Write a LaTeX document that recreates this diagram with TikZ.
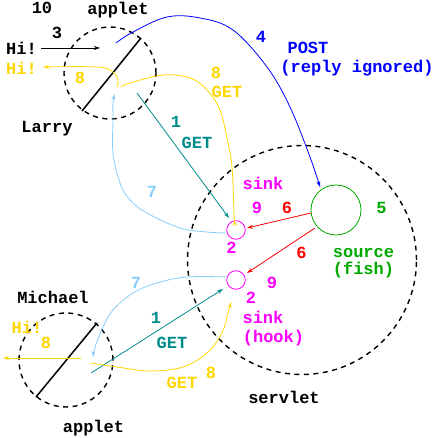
\documentclass[tikz,border=0pt]{standalone}
\usepackage{fontspec}
\setmainfont{Liberation Mono}
\usetikzlibrary{arrows.meta}
\definecolor{cgold}{HTML}{FFD700}
\definecolor{cteal}{HTML}{008B8B}
\definecolor{csky}{HTML}{87CEFA}
\definecolor{cmag}{HTML}{FF00FF}
\definecolor{cgreen}{HTML}{00A800}
\definecolor{cred}{HTML}{FF0000}
\definecolor{cblue}{HTML}{0000FF}
\begin{document}
\begin{tikzpicture}[x=1pt,y=-1pt,
  lbl/.style={inner sep=0pt,font=\fontsize{17}{17}\selectfont\bfseries},
  conn/.style={line width=0.8pt,-{Stealth[length=6pt,width=4pt]}},
  dcirc/.style={circle,draw=black,line width=1.4pt,dash pattern=on 5pt off 4.5pt,inner sep=0pt},
  sinkc/.style={circle,draw=cmag,line width=0.8pt,minimum size=18.6pt,inner sep=0pt},
  bar/.style={line width=1.5pt,black}]
\useasboundingbox (0,0) rectangle (445,438);
% containers
\node[dcirc,minimum size=92pt] (larry) at (110,73) {};
\node[dcirc,minimum size=94pt] (michael) at (66,360) {};
\node[dcirc,minimum size=229pt] (servlet) at (302,260) {};
\node[sinkc] (sinkA) at (236,230) {};
\node[sinkc] (sinkB) at (236,280) {};
\node[circle,draw=cgreen,line width=0.8pt,minimum size=50pt,inner sep=0pt] (source) at (336,210) {};
% bars inside applets
\coordinate (lbA) at (82,111); \coordinate (lbB) at (141,38);
\coordinate (mbA) at (36,397); \coordinate (mbB) at (97,323);
\draw[bar] (lbA) -- (lbB);
\draw[bar] (mbA) -- (mbB);
% labels
\node[lbl] (t10) at (42,8) {10};
\node[lbl] (tapp1) at (118,10) {applet};
\node[lbl] (t3) at (57,33) {3};
\node[lbl] (hi1) at (21.5,48) {Hi!};
\node[lbl,text=cgold] (hi2) at (21.5,68) {Hi!};
\node[lbl,text=cgold] (e8a) at (80,78) {8};
\node[lbl] (tlarry) at (47,129) {Larry};
\node[lbl,text=cteal] (one1) at (176,122) {1};
\node[lbl,text=cteal] (get1) at (197,143) {GET};
\node[lbl,text=cgold] (e8b) at (216,73) {8};
\node[lbl,text=cgold] (get8b) at (227,92) {GET};
\node[lbl,text=cblue] (t4) at (261,37) {4};
\node[lbl,text=cblue] (tpost) at (308,48) {POST};
\node[lbl,text=cblue] (trep) at (357,68.5) {(reply ignored)};
\node[lbl,text=csky] (s7a) at (152,192) {7};
\node[lbl,text=cmag] (tsinkA) at (263,183.5) {sink};
\node[lbl,text=cmag] (n9a) at (257,208) {9};
\node[lbl,text=cred] (r6a) at (287,208) {6};
\node[lbl,text=cgreen] (g5) at (381.5,207.5) {5};
\node[lbl,text=cmag] (n2a) at (231.5,248) {2};
\node[lbl,text=cred] (r6b) at (301.5,253) {6};
\node[lbl,text=cgreen] (tsrc) at (363.5,253) {source};
\node[lbl,text=cgreen] (tfish) at (363.5,269.5) {(fish)};
\node[lbl,text=cmag] (n9b) at (272,283) {9};
\node[lbl,text=cmag] (n2b) at (251,298) {2};
\node[lbl,text=cmag] (tsinkB) at (263,317.5) {sink};
\node[lbl,text=cmag] (thook) at (273.5,338.5) {(hook)};
\node[lbl] (tserv) at (284,397.5) {servlet};
\node[lbl] (tmich) at (53,297.5) {Michael};
\node[lbl,text=cgold] (hi3) at (27,327.5) {Hi!};
\node[lbl,text=cgold] (e8c) at (46,342.5) {8};
\node[lbl,text=csky] (s7b) at (136,282.5) {7};
\node[lbl,text=cteal] (one2) at (156,317.5) {1};
\node[lbl,text=cteal] (get2) at (172,342.5) {GET};
\node[lbl,text=cgold] (e8d) at (211,373) {8};
\node[lbl,text=cgold] (get8d) at (182,383) {GET};
\node[lbl] (tapp2) at (93.5,428.5) {applet};
% connector end points
\coordinate (a3s) at (41,48); \coordinate (a3e) at (100,48);
\coordinate (b4s) at (116,43); \coordinate (b4e) at (320,187);
\coordinate (tealAs) at (137,93); \coordinate (tealAe) at (229,218);
\coordinate (tealBs) at (91,373); \coordinate (tealBe) at (223,289);
\coordinate (redAs) at (311,213); \coordinate (redAe) at (247,228);
\coordinate (redBs) at (315,228); \coordinate (redBe) at (247,273);
\coordinate (hiBs) at (81,358); \coordinate (hiBe) at (3,358);
% connectors
\draw[conn,black] (a3s) -- (a3e);
\draw[conn,cblue] plot[smooth,tension=0.6] coordinates {(b4s) (133,32) (167,17) (200,18) (233,30) (267,67) (290,107) (310,157) (b4e)};
\draw[conn,cteal] (tealAs) -- (tealAe);
\draw[conn,cteal] (tealBs) -- (tealBe);
\draw[conn,cred] (redAs) -- (redAe);
\draw[conn,cred] (redBs) -- (redBe);
\draw[conn,cgold] plot[smooth,tension=0.6] coordinates {(121,87) (130,83) (163,75) (190,78) (207,90) (220,110) (228,143) (232,167) (234,213) (234,220)};
\draw[conn,cgold] plot[smooth,tension=0.6] coordinates {(117,87) (118,80) (113,72) (97,67) (43,67)};
\draw[conn,csky] plot[smooth,tension=0.6] coordinates {(227,233) (207,232) (180,228) (147,213) (130,200) (120,183) (113,153) (113,120) (113,103) (115,94)};
\draw[conn,csky] plot[smooth,tension=0.6] coordinates {(228,277) (187,277) (157,283) (133,293) (113,310) (103,327) (95,347) (93,357)};
\draw[conn,cgold] plot[smooth,tension=0.6] coordinates {(91,363) (117,367) (150,371) (183,367) (207,353) (222,333) (228,313) (231,302)};
\draw[conn,cgold] (hiBs) -- (hiBe);
\end{tikzpicture}
\end{document}
